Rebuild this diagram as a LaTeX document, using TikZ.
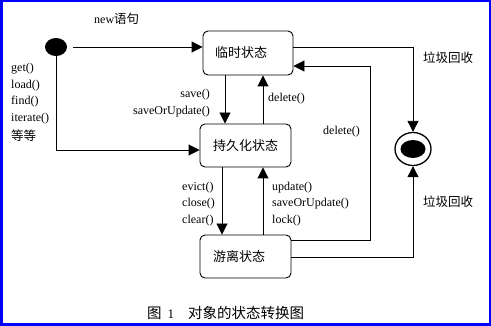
\documentclass[tikz,border=0pt]{standalone}
\usepackage{fontspec}
\setmainfont{Liberation Serif}
\newfontfamily\cjk{Noto Sans CJK SC}
\newcommand\zhtext[1]{{\cjk\fontsize{12.5}{16.5}\selectfont #1}}
\newcommand\zhcap[1]{{\cjk\fontsize{14.5}{16.5}\selectfont #1}}
\usetikzlibrary{arrows.meta,shapes.geometric,calc}
\begin{document}
\begin{tikzpicture}[x=1pt,y=-1pt,
  every node/.style={inner sep=0pt, font=\fontsize{12}{16.5}\selectfont},
  state/.style={draw, rounded corners=5pt, line width=0.9pt, minimum height=43pt, font=\cjk\fontsize{13}{15}\selectfont},
  conn/.style={line width=0.9pt, -{Triangle[length=11pt,width=11pt]}},
  lbl/.style={align=left},
  cn/.style={font=\cjk\fontsize{12.5}{15}\selectfont}
]
\useasboundingbox (0,0) rectangle (491,326);
\fill[white] (0,0) rectangle (491,326);
\draw[blue, line width=2.5pt] (1.25,1.25) rectangle (489.75,324.75);

% states
\node[state, minimum width=90pt, minimum height=44pt, text width=66pt, align=left, inner xsep=12pt] (tmp) at (248,53) {临时状态};
\node[state, minimum width=91pt] (per) at (245.5,145.5) {持久化状态};
\node[state, minimum width=91pt, text width=65pt, align=left, inner xsep=13pt] (det) at (245.5,256.5) {游离状态};

\node[fill, ellipse, minimum width=22pt, minimum height=18pt] (init) at (56,47) {};
\node[draw, ellipse, line width=1.3pt, minimum width=36pt, minimum height=33pt] (fin) at (413,149) {};
\node[fill, ellipse, minimum width=25pt, minimum height=18pt] (finin) at (fin.center) {};

\coordinate (xa) at (225,0);
\coordinate (xb) at (263,0);
\coordinate (xc) at (222,0);

% connectors
\draw[conn] ([xshift=6pt]init.east) -- (tmp.west |- init.east);
\draw[conn] (init.south) |- ($(per.west)+(0,4.5)$);
\draw[conn] (tmp.south -| xa) -- (per.north -| xa);
\draw[conn] (per.north -| xb) -- (tmp.south -| xb);
\draw[conn] (per.south -| xc) -- (det.north -| xc);
\draw[conn] (det.north -| xb) -- (per.south -| xb);
\draw[conn] (tmp.east |- init) -| (fin.north);
\draw[conn] ($(det.east)+(0,0.5)$) -| (fin.south);
\draw[conn] ($(det.east)+(0,-16.5)$) -| ($(tmp.east)+(77,13)$) -- ($(tmp.east)+(0,13)$);

% labels
\node[anchor=west] (newl) at (94,19) {new\zhtext{语句}};
\node[lbl, anchor=west] (calls) at (11,102.5) {get()\\load()\\find()\\iterate()\\[2.5pt]\zhtext{等等}};
\node[align=right, anchor=east] (savel) at (210,103) {save()\\saveOrUpdate()};
\node[anchor=west] (del1) at (268,99) {delete()};
\node[anchor=west] (del2) at (323,132) {delete()};
\node[anchor=west, cn] (gc1) at (423,58) {垃圾回收};
\node[anchor=west, cn] (gc2) at (423,202) {垃圾回收};
\node[lbl, anchor=west] (evl) at (182,204) {evict()\\close()\\clear()};
\node[lbl, anchor=west] (upl) at (272,204) {update()\\saveOrUpdate()\\lock()};
\node[anchor=west] (cap) at (147,313) {\zhcap{图}\hspace{6pt}{\fontsize{13}{16}\selectfont 1}\hspace{14pt}\zhcap{对象的状态转换图}};
\end{tikzpicture}
\end{document}
